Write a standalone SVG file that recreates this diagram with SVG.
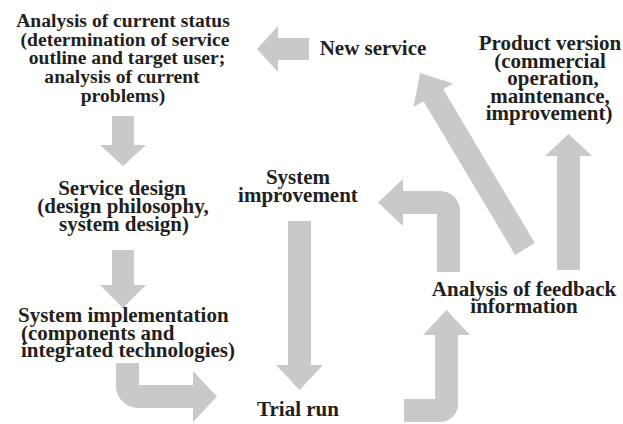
<svg xmlns="http://www.w3.org/2000/svg" width="623" height="424" viewBox="0 0 623 424">
<style>
text{font-family:"Liberation Serif","Times New Roman",serif;font-weight:bold;font-size:21px;fill:#231f20}
.c{text-anchor:middle}
.s{font-size:19.6px}
.a{fill:#c8c9cb;stroke:none}
</style>
<rect width="623" height="424" fill="#ffffff"/>
<g id="connectors">
<polygon class="a" points="257,49 278,26 278,38 309,38 309,60 278,60 278,72"/>
<polygon class="a" points="112,116 134,116 134,145 146,145 123,166 100,145 112,145"/>
<polygon class="a" points="112,250 134,250 134,285 146,285 123,308 100,285 112,285"/>
<path class="a" d="M116,363 H139 V385 H193 V371 L217,396.5 L193,422 V408 H138 A22,22 0 0 1 116,386 Z"/>
<polygon class="a" points="288,221 311,221 311,365 323,365 299.5,390 276,365 288,365"/>
<path class="a" d="M404,399 H435 V335 H423 L446.5,310 L470,335 H458 V404 A18,18 0 0 1 440,422 H404 Z"/>
<path class="a" d="M437,272 V214 H403 V226 L378,202.5 L403,179 V191 H440 A20,20 0 0 1 460,211 V272 Z"/>
<polygon class="a" transform="translate(525,249) rotate(-30.8)" points="-11.5,0 -11.5,-179 -23,-179 0,-205 23,-179 11.5,-179 11.5,0"/>
<polygon class="a" points="557,270 557,156 545,156 568.5,134 592,156 580,156 580,270"/>
</g>
<g id="status">
<text class="c s" x="123" y="27">Analysis of current status<tspan x="125" dy="18.7">(determination of service</tspan><tspan x="127" dy="18.7">outline and target user;</tspan><tspan x="122" dy="18.7">analysis of current</tspan><tspan x="123" dy="18.7">problems)</tspan></text>
</g>
<g id="new-service">
<text class="c" x="373" y="55">New service</text>
</g>
<g id="product">
<text class="c" x="550" y="50">Product version<tspan x="550" dy="17.5">(commercial</tspan><tspan x="553" dy="17.5">operation,</tspan><tspan x="550" dy="17.5">maintenance,</tspan><tspan x="549" dy="17.5">improvement)</tspan></text>
</g>
<g id="service-design">
<text class="c" x="122" y="195">Service design<tspan x="123" dy="17.8">(design philosophy,</tspan><tspan x="124" dy="17.8">system design)</tspan></text>
</g>
<g id="system-improvement">
<text class="c" x="298" y="184">System<tspan x="298" dy="18">improvement</tspan></text>
</g>
<g id="system-implementation">
<text x="18" y="322">System implementation<tspan x="21" dy="17.5">(components and</tspan><tspan x="21" dy="17.5">integrated technologies)</tspan></text>
</g>
<g id="feedback">
<text class="c" x="524" y="296">Analysis of feedback<tspan x="524" dy="17">information</tspan></text>
</g>
<g id="trial-run">
<text class="c" x="298" y="416">Trial run</text>
</g>
</svg>
